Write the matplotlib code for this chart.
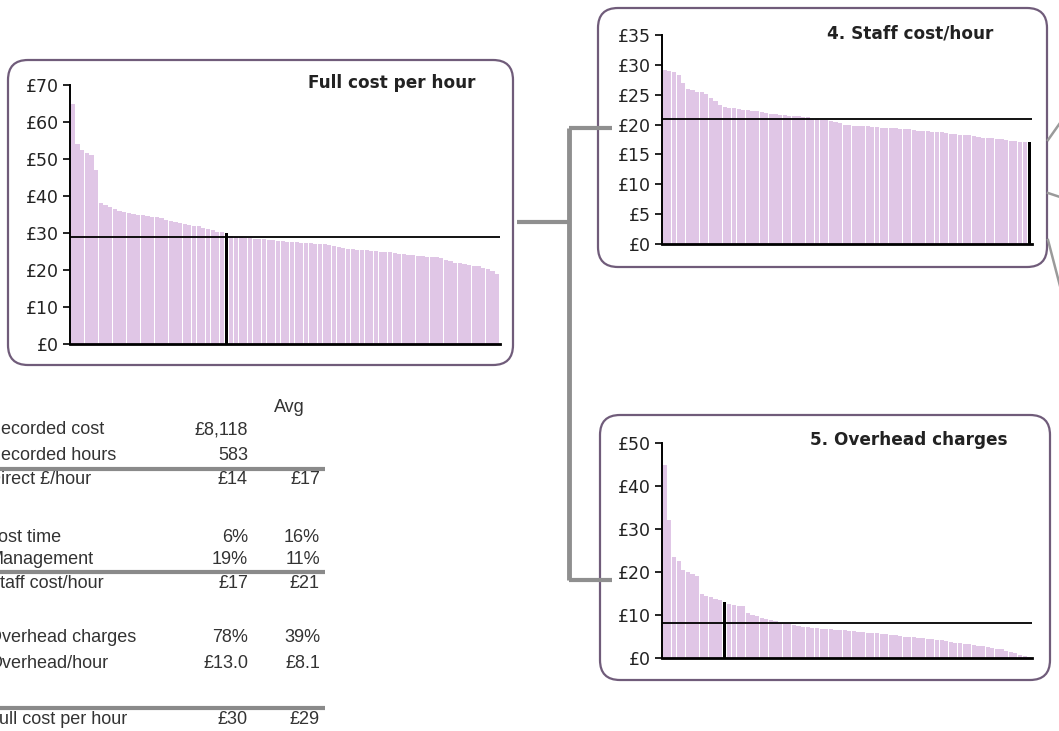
import matplotlib.pyplot as plt
from matplotlib.patches import FancyBboxPatch

# --- Data: sorted £/hour across all units, this unit highlighted ---
full_cost = [65, 54, 52.5, 51.5, 51, 47, 38,
             37.5, 37, 36.5, 36, 35.8, 35.5, 35.2, 35,
             34.8, 34.6, 34.4, 34.2, 34,
             33.6, 33.3, 33, 32.8,
             32.5, 32.2, 32, 31.8,
             31.4, 31, 30.7, 30.4, 30.2,
             30,
             29.2, 29, 28.8, 28.7, 28.6, 28.5, 28.4, 28.3, 28.2,
             28, 27.9, 27.8, 27.7, 27.6, 27.5, 27.4,
             27.3, 27.2, 27.1, 27, 26.9, 26.8, 26.6,
             26.3, 26, 25.8, 25.6, 25.5,
             25.4, 25.3, 25.2, 25.1, 25, 24.9, 24.8,
             24.6, 24.4, 24.2, 24.1, 24,
             23.8, 23.7, 23.6, 23.5, 23.4, 23.2,
             22.8, 22.4, 22, 21.8, 21.6,
             21.4, 21.2, 21, 20.6, 20.2,
             19.8, 19]
full_cost_hl = 33
full_cost_avg = 29

staff_cost = [29.2, 29, 28.8, 28.3,
              27, 26, 25.8,
              25.5, 25.4, 25.2,
              24.5, 24, 23.3, 23,
              22.8, 22.7, 22.6, 22.5, 22.4, 22.3, 22.2, 22.1, 22,
              21.8, 21.7, 21.6, 21.6, 21.5, 21.4, 21.4, 21.3, 21.2,
              21, 20.9, 20.8, 20.7, 20.6, 20.5,
              20.2, 20, 19.9, 19.8, 19.8, 19.7, 19.7, 19.6, 19.6,
              19.5, 19.5, 19.4, 19.4, 19.3, 19.3, 19.2, 19.1, 19,
              18.9, 18.9, 18.8, 18.8, 18.7, 18.6,
              18.4, 18.4, 18.3, 18.3, 18.2, 18.1,
              17.9, 17.8, 17.7, 17.7, 17.6, 17.5, 17.4, 17.3, 17.2, 17.1, 17.1,
              17]
staff_cost_hl = 79
staff_cost_avg = 21

overhead = [45, 32, 23.5, 22.5, 20.5, 20, 19.5, 19, 15, 14.5,
            14.2, 13.8, 13.5, 13.0,
            12.5, 12.3, 12.1, 12,
            10.5, 10, 9.8,
            9.3, 9, 8.8, 8.5, 8.2, 8, 7.8, 7.6, 7.4,
            7.2, 7.1, 7, 6.9, 6.8, 6.8, 6.7, 6.6, 6.5, 6.4, 6.3,
            6.2, 6.1, 6, 5.9, 5.8, 5.7, 5.6, 5.5, 5.4, 5.3, 5.1,
            5, 4.9, 4.8, 4.7, 4.6, 4.5, 4.4, 4.2, 4.1, 4, 3.8,
            3.6, 3.5, 3.3, 3.2, 3, 2.9, 2.7, 2.6, 2.4, 2.2,
            2, 1.7, 1.4, 1.1, 0.8, 0.5, 0.2]
overhead_hl = 13
overhead_avg = 8.1

# summary table rows: label, this unit, average
table_labels = ['Recorded cost', 'Recorded hours', 'Direct £/hour',
                'Lost time', 'Management', 'Staff cost/hour',
                'Overhead charges', 'Overhead/hour', 'Full cost per hour']
table_unit = ['£8,118', '583', '£14', '6%', '19%', '£17', '78%', '£13.0', '£30']
table_avg = ['', '', '£17', '16%', '11%', '£21', '39%', '£8.1', '£29']
table_rows_y = [430, 455, 480, 537, 560, 583, 638, 663, 720]

BAR = '#e0c6e6'
FRAME = '#705c7a'
LINK = '#8f8f8f'
W, H = 1059, 731

fig = plt.figure(figsize=(W / 100, H / 100), dpi=100)

# full-figure layer in pixel units for frames, links and the table
bg = fig.add_axes([0, 0, 1, 1], zorder=0)
bg.set_xlim(0, W)
bg.set_ylim(H, 0)
bg.axis('off')


def frame(x0, y0, x1, y1):
    bg.add_patch(FancyBboxPatch((x0, y0), x1 - x0, y1 - y0,
                                boxstyle='round,pad=0,rounding_size=20',
                                fc='none', ec=FRAME, lw=1.6))


def panel(rect, values, hl, avg, top, step, title, title_xy):
    x0, y0, x1, y1 = rect
    ax = fig.add_axes([x0 / W, 1 - y1 / H, (x1 - x0) / W, (y1 - y0) / H], zorder=1)
    ax.set_facecolor('none')
    xs = range(len(values))
    colors = [BAR] * len(values)
    widths = [0.9] * len(values)
    colors[hl] = 'black'
    widths[hl] = 0.65
    ax.bar(xs, values, width=widths, color=colors, lw=0)
    ax.axhline(avg, color='black', lw=1.3)
    ax.set_xlim(-0.6, len(values) - 0.4)
    ax.set_ylim(0, top)
    ticks = list(range(0, top + 1, step))
    ax.set_yticks(ticks)
    ax.set_yticklabels([f'£{t}' for t in ticks])
    ax.set_xticks([])
    for s in ['top', 'right']:
        ax.spines[s].set_visible(False)
    ax.spines['left'].set_linewidth(1.4)
    ax.spines['bottom'].set_linewidth(2)
    ax.tick_params(axis='y', length=5, width=1.2, pad=3, labelsize=12.5,
                   labelcolor='#222222')
    bg.text(title_xy[0], title_xy[1], title, ha='right', va='center',
            fontsize=12.2, fontweight='bold', color='#222222')
    return ax


frame(8, 60, 513, 365)
frame(598, 8, 1047, 267)
frame(600, 415, 1050, 680)

panel((70, 85, 500, 344), full_cost, full_cost_hl, full_cost_avg, 70, 10,
      'Full cost per hour', (475, 83))
panel((662, 35, 1032, 244), staff_cost, staff_cost_hl, staff_cost_avg, 35, 5,
      '4. Staff cost/hour', (993, 33))
panel((662, 443, 1032, 658), overhead, overhead_hl, overhead_avg, 50, 10,
      '5. Overhead charges', (1007, 440))

# links between panels
bg.plot([517, 569], [222, 222], color=LINK, lw=3, solid_capstyle='butt')
bg.plot([569, 569], [128, 580], color=LINK, lw=3.5, solid_capstyle='butt')
bg.plot([569, 612], [128, 128], color=LINK, lw=3, solid_capstyle='butt')
bg.plot([569, 612], [580, 580], color=LINK, lw=3, solid_capstyle='butt')
for (a, b) in [((1048, 140), (1060, 123)), ((1048, 193), (1060, 197)),
               ((1048, 240), (1060, 286))]:
    bg.plot([a[0], b[0]], [a[1], b[1]], color='#9a9a9a', lw=1.8, clip_on=False)

# summary table (labels run off the left edge of the sheet)
tfont = dict(family='Liberation Sans', fontsize=13, color='#333333', va='center')
bg.text(289, 407, 'Avg', ha='center', **tfont)
for label, unit, avg, y in zip(table_labels, table_unit, table_avg, table_rows_y):
    bg.text(-12, y, label, ha='left', clip_on=False, **tfont)
    bg.text(248, y, unit, ha='right', **tfont)
    bg.text(320, y, avg, ha='right', **tfont)
for y in [469, 572, 708]:
    bg.plot([0, 325], [y, y], color='#8a8a8a', lw=3, solid_capstyle='butt')

fig.savefig('out.png', dpi=100)
